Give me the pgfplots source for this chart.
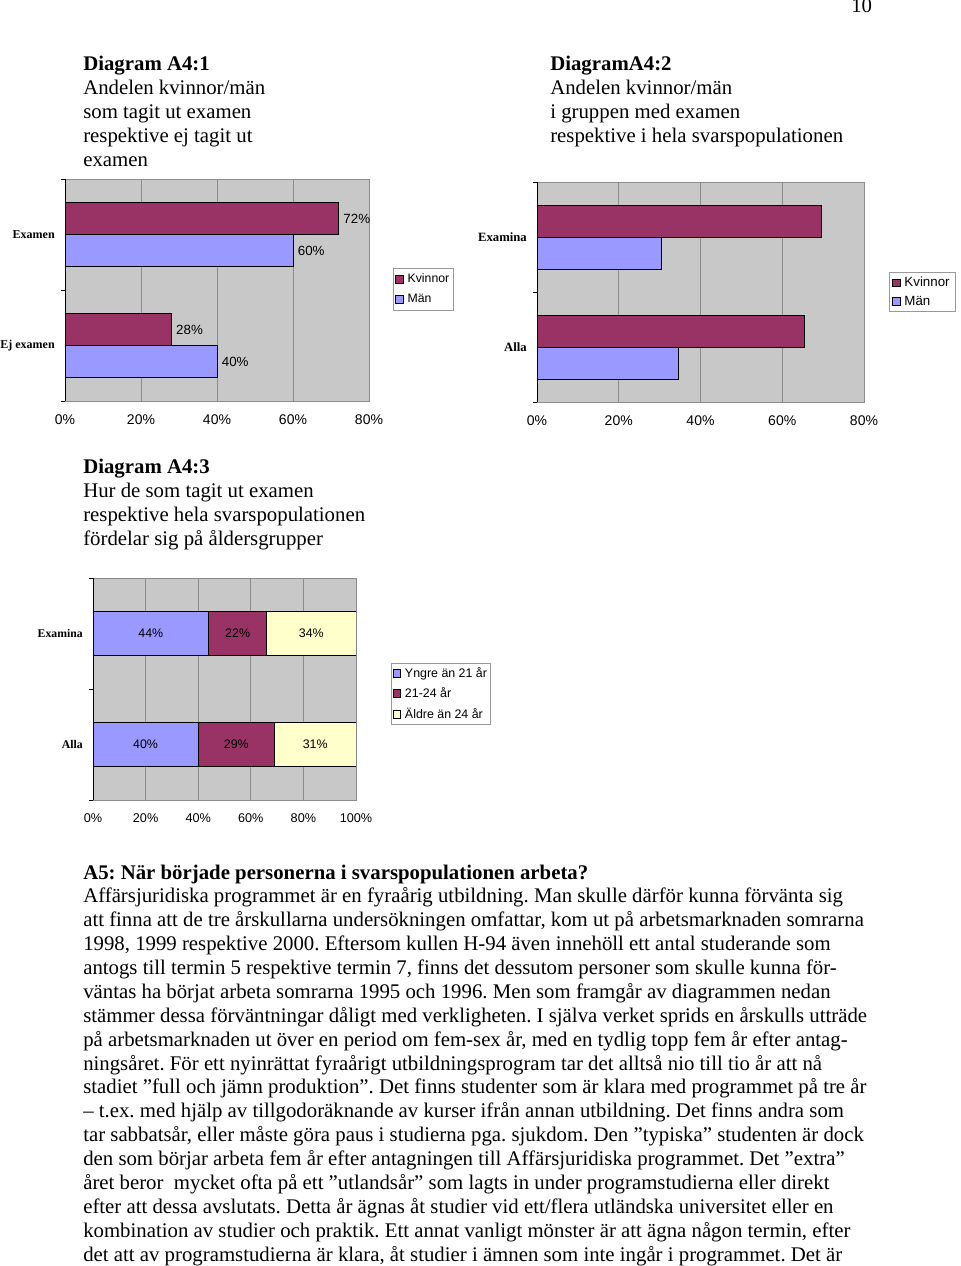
\documentclass[border=0pt]{standalone}
\usepackage{fontspec}
\setmainfont{Liberation Serif}
\newfontfamily\arial{Liberation Sans}
\usepackage{pgfplots}
\pgfplotsset{compat=1.18}
\definecolor{kv}{HTML}{993366}
\definecolor{ma}{HTML}{9999FF}
\definecolor{ld}{HTML}{FFFFCC}
\definecolor{bg}{HTML}{C8C8C8}
\definecolor{gl}{HTML}{8C8C8C}
\newcommand\body{\fontsize{15.6}{18}\selectfont}
\frenchspacing

\pgfplotsset{
  mybar/.style={
    scale only axis,
    ymin=-0.5, ymax=1.5,
    ytick={0,1},
    minor ytick={-0.5,0.5,1.5},
    major tick length=0pt,
    minor tick length=3pt,
    minor tick style={draw=black, line width=0.5pt},
    tick align=outside,
    tick pos=left,
    xmajorgrids,
    major grid style={gl, line width=0.5pt},
    axis line style={gl, line width=0.5pt},
    axis background/.style={fill=bg},
    xticklabel={\pgfmathprintnumber{\tick}\%},
    /pgf/number format/assume math mode=true,
    xticklabel style={yshift=-6.5pt},
    yticklabel style={inner sep=0pt, xshift=-7.5pt},
    legend cell align=left,
    every axis plot post/.append style={
      legend image code/.code={\draw[##1,draw=black,line width=0.5pt] (0pt,-2.9pt) rectangle (5.8pt,2.9pt);}},
    after end axis/.code={\draw[black,line width=0.6pt] (rel axis cs:0,0) -- (rel axis cs:0,1);},
  }
}

\begin{document}
\begin{tikzpicture}
\begin{scope}[x=0.75pt,y=-0.75pt]
\coordinate (a1) at (65,401);
\coordinate (a2) at (537,402);
\coordinate (a3) at (93,800);
\node[anchor=base west, inner sep=0, font=\body] at (851,12.5) {10};
% titles
\node[anchor=base west, inner sep=0, font=\body\bfseries] at (83,71) {Diagram A4:1};
\node[anchor=base west, inner sep=0, font=\body] at (83,95) {Andelen kvinnor/män};
\node[anchor=base west, inner sep=0, font=\body] at (83,119) {som tagit ut examen};
\node[anchor=base west, inner sep=0, font=\body] at (83,143) {respektive ej tagit ut};
\node[anchor=base west, inner sep=0, font=\body] at (83,167) {examen};
\node[anchor=base west, inner sep=0, font=\body\bfseries] at (550,71) {DiagramA4:2};
\node[anchor=base west, inner sep=0, font=\body] at (550,95) {Andelen kvinnor/män};
\node[anchor=base west, inner sep=0, font=\body] at (550,119) {i gruppen med examen};
\node[anchor=base west, inner sep=0, font=\body] at (550,143) {respektive i hela svarspopulationen};
\node[anchor=base west, inner sep=0, font=\body\bfseries] at (83,473) {Diagram A4:3};
\node[anchor=base west, inner sep=0, font=\body] at (83,497) {Hur de som tagit ut examen};
\node[anchor=base west, inner sep=0, font=\body] at (83,521) {respektive hela svarspopulationen};
\node[anchor=base west, inner sep=0, font=\body] at (83,545) {fördelar sig på åldersgrupper};
% body text
\foreach \t [count=\i from 0] in {
{\bfseries A5: När började personerna i svarspopulationen arbeta?},
{Affärsjuridiska programmet är en fyraårig utbildning. Man skulle därför kunna förvänta sig},
{att finna att de tre årskullarna undersökningen omfattar, kom ut på arbetsmarknaden somrarna},
{1998, 1999 respektive 2000. Eftersom kullen H-94 även innehöll ett antal studerande som},
{antogs till termin 5 respektive termin 7, finns det dessutom personer som skulle kunna för-},
{väntas ha börjat arbeta somrarna 1995 och 1996. Men som framgår av diagrammen nedan},
{stämmer dessa förväntningar dåligt med verkligheten. I själva verket sprids en årskulls utträde},
{på arbetsmarknaden ut över en period om fem-sex år, med en tydlig topp fem år efter antag-},
{ningsåret. För ett nyinrättat fyraårigt utbildningsprogram tar det alltså nio till tio år att nå},
{stadiet ”full och jämn produktion”. Det finns studenter som är klara med programmet på tre år},
{– t.ex. med hjälp av tillgodoräknande av kurser ifrån annan utbildning. Det finns andra som},
{tar sabbatsår, eller måste göra paus i studierna pga. sjukdom. Den ”typiska” studenten är dock},
{den som börjar arbeta fem år efter antagningen till Affärsjuridiska programmet. Det ”extra”},
{året beror \ mycket ofta på ett ”utlandsår” som lagts in under programstudierna eller direkt},
{efter att dessa avslutats. Detta år ägnas åt studier vid ett/flera utländska universitet eller en},
{kombination av studier och praktik. Ett annat vanligt mönster är att ägna någon termin, efter},
{det att av programstudierna är klara, åt studier i ämnen som inte ingår i programmet. Det är}
}{
\node[anchor=base west, inner sep=0, font=\body] at (83,{879+23.88*\i}) {\t};
}
\end{scope}

% Diagram A4:1
\begin{axis}[xbar, mybar, at={(a1)}, anchor=south west,
  width=228pt, height=166.5pt,
  xmin=0, xmax=80, xtick={0,20,40,60,80},
  bar width=0.288,
  yticklabels={Ej examen, Examen},
  xticklabel style={font=\arial\fontsize{10.5}{12}\selectfont},
  yticklabel style={font=\bfseries\fontsize{9}{11}\selectfont},
  nodes near coords={\pgfmathprintnumber{\pgfplotspointmeta}\%},
  nodes near coords style={font=\arial\fontsize{10}{12}\selectfont},
  legend style={at={(1.079,0.599)}, anchor=north west, draw=gray!80, fill=white,
    font=\arial\fontsize{9.2}{11}\selectfont, inner xsep=1.5pt, inner ysep=2.5pt,
    nodes={inner sep=1.5pt}, row sep=4.2pt, column sep=1.5pt},
]
\addplot[fill=kv, draw=black, line width=0.6pt, bar shift=0.144] coordinates {(72,1) (28,0)};
\addplot[fill=ma, draw=black, line width=0.6pt, bar shift=-0.144] coordinates {(60,1) (40,0)};
\legend{Kvinnor, Män}
\end{axis}

% Diagram A4:2
\begin{axis}[xbar, mybar, at={(a2)}, anchor=south west,
  width=245.25pt, height=165pt,
  xmin=0, xmax=80, xtick={0,20,40,60,80},
  bar width=0.29,
  yticklabels={Alla, Examina},
  xticklabel style={font=\arial\fontsize{10.5}{12}\selectfont},
  yticklabel style={font=\bfseries\fontsize{9.5}{11}\selectfont},
  legend style={at={(1.076,0.591)}, anchor=north west, draw=gray!80, fill=white,
    font=\arial\fontsize{10}{12}\selectfont, inner xsep=2.5pt, inner ysep=2pt,
    nodes={inner sep=1.5pt}, row sep=2.5pt, column sep=1.2pt},
]
\addplot[fill=kv, draw=black, line width=0.6pt, bar shift=0.145] coordinates {(69.6,1) (65.5,0)};
\addplot[fill=ma, draw=black, line width=0.6pt, bar shift=-0.145] coordinates {(30.4,1) (34.5,0)};
\legend{Kvinnor, Män}
\end{axis}

% Diagram A4:3
\begin{axis}[xbar stacked, mybar, at={(a3)}, anchor=south west,
  width=197.25pt, height=166.5pt,
  xmin=0, xmax=100, xtick={0,20,40,60,80,100},
  bar width=0.396,
  yticklabels={Alla, Examina},
  xticklabel style={font=\arial\fontsize{9.5}{11}\selectfont},
  yticklabel style={font=\bfseries\fontsize{8.8}{10}\selectfont},
  nodes near coords={\pgfmathprintnumber{\pgfplotspointmeta}\%},
  every node near coord/.append style={anchor=center, font=\arial\fontsize{9.3}{11}\selectfont},
  legend style={at={(1.133,0.617)}, anchor=north west, draw=gray!80, fill=white,
    font=\arial\fontsize{9.3}{11}\selectfont, inner xsep=1pt, inner ysep=1.5pt,
    nodes={inner sep=1.5pt}, row sep=3.2pt, column sep=1.5pt},
]
\addplot[fill=ma, draw=black, line width=0.6pt] coordinates {(44,1) (40,0)};
\addplot[fill=kv, draw=black, line width=0.6pt] coordinates {(22,1) (29,0)};
\addplot[fill=ld, draw=black, line width=0.6pt] coordinates {(34,1) (31,0)};
\legend{Yngre än 21 år, 21-24 år, Äldre än 24 år}
\end{axis}
\pgfresetboundingbox
\path[use as bounding box] (0,0) rectangle (720pt,-949.5pt);
\end{tikzpicture}
\end{document}
